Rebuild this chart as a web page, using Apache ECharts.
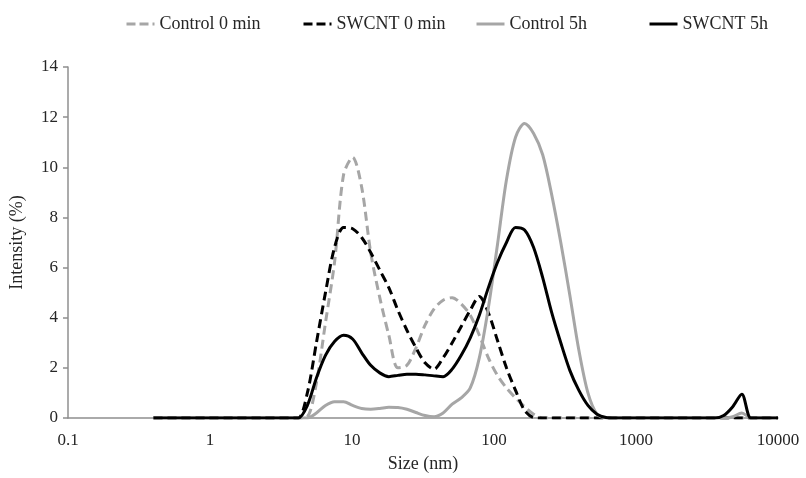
<!DOCTYPE html>
<html>
<head>
<meta charset="utf-8">
<script src="https://cdn.jsdelivr.net/npm/echarts@6/dist/echarts.min.js"></script>
<style>html,body{margin:0;padding:0;background:#fff}#c{width:806px;height:478px}</style>
</head>
<body>
<div id="c"></div>
<script>
// Size bins (nm)
const sizes = [0.4, 0.4632, 0.5365, 0.6213, 0.7195, 0.8332, 0.9649, 1.117, 1.294, 1.499,
  1.736, 2.010, 2.328, 2.696, 3.122, 3.615, 4.187, 4.849, 5.615, 6.503,
  7.531, 8.721, 10.10, 11.70, 13.54, 15.69, 18.17, 21.04, 24.36, 28.21,
  32.67, 37.84, 43.82, 50.75, 58.77, 68.06, 78.82, 91.28, 105.7, 122.4,
  141.8, 164.2, 190.1, 220.2, 255.0, 295.3, 342.0, 396.1, 458.7, 531.2,
  615.1, 712.4, 825.0, 955.4, 1106, 1281, 1484, 1718, 1990, 2305,
  2669, 3091, 3580, 4145, 4801, 5560, 6439, 7456, 8635, 10000];

const control0 = [0,0,0,0,0,0,0,0,0,0, 0,0,0,0,0,0, 0, 0.05, 1.4, 3.8,
  6.2, 9.7, 10.4, 9.2, 6.6, 4.8, 3.3, 2.0, 2.1, 2.8,
  3.7, 4.35, 4.7, 4.8, 4.55, 4.1, 3.3, 2.4, 1.7, 1.2,
  0.8, 0.45, 0.15, 0, 0, 0, 0, 0, 0, 0,
  0,0,0,0,0,0,0,0,0,0, 0,0,0,0,0,0,0,0,0,0];

const swcnt0 = [0,0,0,0,0,0,0,0,0,0, 0,0,0,0,0,0, 0, 1.0, 3.0, 5.0,
  6.8, 7.6, 7.55, 7.2, 6.6, 5.9, 5.2, 4.3, 3.5, 2.8,
  2.2, 1.95, 2.4, 3.0, 3.65, 4.3, 4.85, 4.2, 3.1, 2.0,
  1.1, 0.3, 0.02, 0, 0, 0, 0, 0, 0, 0,
  0,0,0,0,0,0,0,0,0,0, 0,0,0,0,0,0,0,0,0,0];

const control5h = [0,0,0,0,0,0,0,0,0,0, 0,0,0,0,0,0, 0, 0, 0.2, 0.5,
  0.65, 0.65, 0.5, 0.38, 0.35, 0.38, 0.43, 0.42, 0.35, 0.22,
  0.1, 0.05, 0.2, 0.55, 0.8, 1.2, 2.4, 4.4, 6.9, 9.5,
  11.2, 11.75, 11.35, 10.5, 8.9, 7.0, 4.9, 2.7, 1.0, 0.15,
  0,0,0,0,0,0,0,0,0,0, 0,0,0,0,0.05,0.2,0,0,0,0];

const swcnt5h = [0,0,0,0,0,0,0,0,0,0, 0,0,0,0,0,0, 0, 0.5, 1.6, 2.5,
  3.05, 3.3, 3.15, 2.6, 2.1, 1.8, 1.65, 1.7, 1.75, 1.75,
  1.72, 1.68, 1.65, 1.95, 2.5, 3.2, 4.1, 5.2, 6.2, 7.0,
  7.6, 7.5, 6.8, 5.6, 4.2, 3.0, 1.9, 1.1, 0.5, 0.15,
  0.02,0,0,0,0,0,0,0,0,0, 0,0,0,0.1,0.45,0.95,0,0,0,0];

const seriesNames = ['Control 0 min', 'SWCNT 0 min', 'Control 5h', 'SWCNT 5h'];
const xTicks = ['0.1', '1', '10', '100', '1000', '10000'];

const gray = '#a6a6a6';
const black = '#000000';
const font = 'Liberation Serif, Times New Roman, serif';
const colors = [gray, black, gray, black];
const dashed = [true, true, false, false];

function zip(vals) { return sizes.map((s, i) => [s, vals[i]]); }

function mkSeries(name, vals, color, isDashed) {
  return {
    name: name, type: 'line', data: zip(vals), showSymbol: false, symbol: 'none',
    smooth: 0.3,
    lineStyle: { color: color, width: 3, type: isDashed ? [9, 5] : 'solid' },
    itemStyle: { color: color },
    emphasis: { disabled: true }
  };
}

const legendLefts = [120, 297, 470, 643];
const legends = seriesNames.map((n, i) => ({
  data: [n], left: legendLefts[i], top: 10, itemWidth: 28, itemHeight: 14, itemGap: 5,
  itemStyle: { color: 'rgba(0,0,0,0)', borderColor: 'rgba(0,0,0,0)', borderWidth: 0, opacity: 0 },
  lineStyle: { color: colors[i], width: 3, type: dashed[i] ? [9, 4] : 'solid' },
  textStyle: { fontFamily: font, fontSize: 18, color: '#262626' }, selectedMode: false
}));

const chart = echarts.init(document.getElementById('c'), null, { renderer: 'canvas' });
chart.setOption({
  animation: false,
  backgroundColor: '#fff',
  legend: legends,
  grid: { left: 68, right: 28, top: 67, bottom: 56, containLabel: false },
  xAxis: {
    type: 'log', logBase: 10, min: 0.1, max: 10000,
    name: 'Size (nm)', nameLocation: 'middle', nameGap: 37,
    nameTextStyle: { fontFamily: font, fontSize: 18, color: '#262626' },
    axisLine: { lineStyle: { color: '#8f8f8f', width: 1.5 } },
    axisTick: { show: false },
    splitLine: { show: false },
    minorTick: { show: false },
    axisLabel: {
      fontFamily: font, fontSize: 17, color: '#262626', margin: 14,
      formatter: function (v) {
        const e = Math.round(Math.log10(v));
        return xTicks[e + 1] !== undefined ? xTicks[e + 1] : '';
      }
    }
  },
  yAxis: {
    type: 'value', min: 0, max: 14, interval: 2,
    name: 'Intensity (%)', nameLocation: 'middle', nameGap: 42, nameRotate: 90,
    nameTextStyle: { fontFamily: font, fontSize: 18, color: '#262626' },
    axisLine: { show: true, lineStyle: { color: '#8f8f8f', width: 1.5 } },
    axisTick: { show: true, inside: false, length: 5, lineStyle: { color: '#8f8f8f', width: 1.5 } },
    splitLine: { show: false },
    axisLabel: { fontFamily: font, fontSize: 17, color: '#262626', margin: 10 }
  },
  series: seriesNames.map((n, i) =>
    mkSeries(n, [control0, swcnt0, control5h, swcnt5h][i], colors[i], dashed[i]))
});
</script>
</body>
</html>
